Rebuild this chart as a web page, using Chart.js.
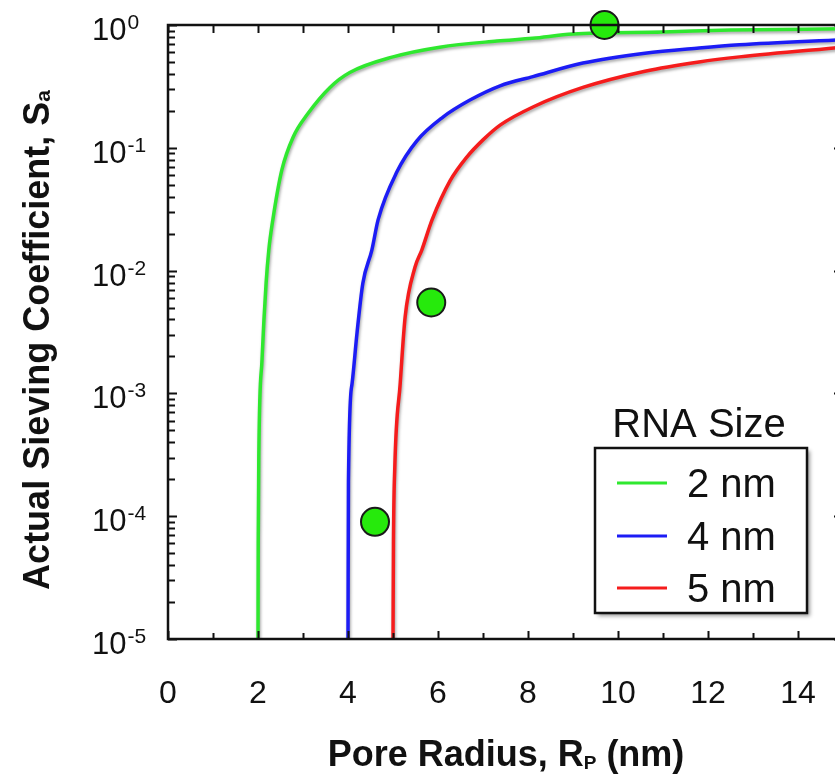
<!DOCTYPE html>
<html>
<head>
<meta charset="utf-8">
<script src="https://cdn.jsdelivr.net/npm/chart.js@4.4.1/dist/chart.umd.min.js"></script>
<style>
html, body { margin: 0; padding: 0; background: #fff; overflow: hidden; }
#caixa { width: 860px; height: 774px; }
</style>
</head>
<body>
<div id="caixa"><canvas id="grafico-sieving" width="860" height="774"></canvas></div>
<script>
// DADOS
var raio2nm = [2.0, 2.005, 2.02, 2.09, 2.18, 2.24, 2.33, 2.53, 2.78, 3.11, 3.6, 4.04, 5.0, 6.04, 7.31, 8.1, 9.0, 11.0, 12.5, 15];
var sieving2nm = [1e-5, 6e-5, 3.5e-4, 1.9e-3, 7.9e-3, 0.0147, 0.026, 0.066, 0.122, 0.19, 0.31, 0.41, 0.55, 0.66, 0.74, 0.78, 0.845, 0.877, 0.91, 0.93];

var raio4nm = [4.0, 4.01, 4.09, 4.2, 4.33, 4.53, 4.67, 5.09, 5.53, 6.11, 6.71, 7.38, 8.11, 9.22, 10.6, 11.8, 12.7, 15];
var sieving4nm = [1e-5, 1.9e-4, 1.2e-3, 3.1e-3, 7.9e-3, 0.0147, 0.026, 0.064, 0.114, 0.178, 0.245, 0.32, 0.38, 0.49, 0.59, 0.65, 0.69, 0.76];

var raio5nm = [5.0, 5.01, 5.04, 5.16, 5.27, 5.49, 5.64, 5.87, 6.27, 6.64, 7.0, 7.38, 8.11, 9.22, 10.6, 11.8, 12.7, 15];
var sieving5nm = [1e-5, 6e-5, 2.5e-4, 1.2e-3, 4.2e-3, 0.0107, 0.0147, 0.026, 0.054, 0.084, 0.116, 0.153, 0.215, 0.31, 0.42, 0.50, 0.55, 0.66];

// pontos medidos (circulos verdes)
var raioMedido = [9.7, 5.85, 4.6];
var sievingMedido = [1.0, 5.5e-3, 9e-5];

var rotulosLegenda = ['2 nm', '4 nm', '5 nm'];
var ticksX = [0, 2, 4, 6, 8, 10, 12, 14];
var expoentesY = [0, -1, -2, -3, -4, -5];

var FONTE = 'Arial, "Liberation Sans", Helvetica, sans-serif';

function pares(xs, ys) {
    return xs.map(function(x, i) { return { x: x, y: ys[i] }; });
}

function curva(label, xs, ys, cor) {
    return {
        label: label,
        data: pares(xs, ys),
        borderColor: cor,
        backgroundColor: cor,
        borderWidth: 3.5,
        pointRadius: 0,
        cubicInterpolationMode: 'monotone',
        sombra: true,
        order: 1
    };
}

var dataSieving = {
    datasets: [
        {
            label: 'medido',
            data: pares(raioMedido, sievingMedido),
            showLine: false,
            pointRadius: 14,
            pointBackgroundColor: '#26ea0c',
            pointBorderColor: '#1a1a1a',
            pointBorderWidth: 2,
            clip: false,
            order: 0
        },
        curva(rotulosLegenda[0], raio2nm, sieving2nm, '#2fe82f'),
        curva(rotulosLegenda[1], raio4nm, sieving4nm, '#1c1cf5'),
        curva(rotulosLegenda[2], raio5nm, sieving5nm, '#f51c1c')
    ]
};

// sombra cinza debaixo das curvas
var pluginSombra = {
    id: 'sombra',
    beforeDatasetDraw: function(chart, args) {
        var ds = chart.data.datasets[args.index];
        if (!ds.sombra) return;
        var ctx = chart.ctx;
        ctx.save();
        ctx.shadowColor = 'rgba(0,0,0,0.35)';
        ctx.shadowBlur = 3;
        ctx.shadowOffsetX = 1;
        ctx.shadowOffsetY = 2;
    },
    afterDatasetDraw: function(chart, args) {
        var ds = chart.data.datasets[args.index];
        if (!ds.sombra) return;
        chart.ctx.restore();
    }
};

// moldura, ticks para dentro, rotulos do eixo Y, titulos e legenda
var pluginMoldura = {
    id: 'moldura',
    afterDatasetsDraw: function(chart) {
        var ctx = chart.ctx;
        var a = chart.chartArea;
        var sx = chart.scales.x;
        var sy = chart.scales.y;
        ctx.save();
        ctx.strokeStyle = '#111';
        ctx.lineWidth = 2;
        ctx.beginPath();
        // ticks do eixo X (baixo e cima)
        for (var v = 0; v <= 15; v++) {
            var px = Math.round(sx.getPixelForValue(v)) + 0.5;
            var len = (v % 2 === 0) ? 8 : 6;
            ctx.moveTo(px, a.bottom);
            ctx.lineTo(px, a.bottom - len);
            ctx.moveTo(px, a.top);
            ctx.lineTo(px, a.top + 8);
        }
        // ticks do eixo Y log (esquerda e direita)
        for (var e = -5; e <= 0; e++) {
            for (var m = 1; m <= 9; m++) {
                var val = m * Math.pow(10, e);
                if (val > 1) break;
                var py = Math.round(sy.getPixelForValue(val)) + 0.5;
                var l = (m === 1) ? 9 : 7;
                ctx.moveTo(a.left, py);
                ctx.lineTo(a.left + l, py);
                ctx.moveTo(a.right, py);
                ctx.lineTo(a.right - l, py);
            }
        }
        ctx.stroke();
        ctx.lineWidth = 2.5;
        ctx.strokeRect(a.left, a.top, a.right - a.left, a.bottom - a.top);
        ctx.restore();
    },
    afterDraw: function(chart) {
        var ctx = chart.ctx;
        var sy = chart.scales.y;
        ctx.save();
        ctx.fillStyle = '#111';

        // rotulos 10^n
        ctx.textAlign = 'left';
        ctx.textBaseline = 'alphabetic';
        expoentesY.forEach(function(e) {
            var py = sy.getPixelForValue(Math.pow(10, e));
            ctx.font = '31px ' + FONTE;
            ctx.fillText('10', 92, py + 15);
            var w = ctx.measureText('10').width;
            ctx.font = '21px ' + FONTE;
            ctx.fillText(String(e), 92 + w + 1, py + 4);
        });

        // titulo do eixo X
        var partesX = [
            { t: 'Pore Radius, R', f: 'bold 36px ', dy: 0 },
            { t: 'P', f: 'bold 19px ', dy: 3 },
            { t: ' (nm)', f: 'bold 36px ', dy: 0 }
        ];
        desenhaPartes(ctx, partesX, 506, 766);

        // titulo do eixo Y
        ctx.save();
        ctx.translate(49, 340);
        ctx.rotate(-Math.PI / 2);
        var partesY = [
            { t: 'Actual Sieving Coefficient, S', f: 'bold 36px ', dy: 0 },
            { t: 'a', f: 'bold 21px ', dy: 1 }
        ];
        desenhaPartes(ctx, partesY, 0, 0);
        ctx.restore();

        // legenda
        ctx.font = '40px ' + FONTE;
        ctx.textAlign = 'center';
        ctx.fillText('RNA Size', 699, 437);

        ctx.save();
        ctx.shadowColor = 'rgba(0,0,0,0.4)';
        ctx.shadowBlur = 4;
        ctx.shadowOffsetX = 3;
        ctx.shadowOffsetY = 3;
        ctx.fillStyle = '#fff';
        ctx.fillRect(595, 448, 212, 165);
        ctx.restore();
        ctx.strokeStyle = '#111';
        ctx.lineWidth = 2.5;
        ctx.strokeRect(595, 448, 212, 165);

        var linhas = [483, 536, 588];
        ctx.textAlign = 'left';
        for (var i = 0; i < 3; i++) {
            var ds = chart.data.datasets[i + 1];
            ctx.strokeStyle = ds.borderColor;
            ctx.lineWidth = 3;
            ctx.beginPath();
            ctx.moveTo(617, linhas[i]);
            ctx.lineTo(667, linhas[i]);
            ctx.stroke();
            ctx.fillStyle = '#111';
            ctx.font = '40px ' + FONTE;
            ctx.fillText(ds.label, 687, linhas[i] + 14);
        }
        ctx.restore();
    }
};

// escreve texto com subscrito, centralizado em cx
function desenhaPartes(ctx, partes, cx, baseY) {
    var total = 0;
    partes.forEach(function(p) {
        ctx.font = p.f + FONTE;
        p.w = ctx.measureText(p.t).width;
        total += p.w;
    });
    var x = cx - total / 2;
    ctx.textAlign = 'left';
    ctx.textBaseline = 'alphabetic';
    partes.forEach(function(p) {
        ctx.font = p.f + FONTE;
        ctx.fillText(p.t, x, baseY + p.dy);
        x += p.w;
    });
}

var optionsSieving = {
    responsive: false,
    animation: false,
    layout: {
        padding: { left: 0, right: 17, top: 25, bottom: 0 }
    },
    plugins: {
        legend: { display: false },
        tooltip: { enabled: false }
    },
    scales: {
        x: {
            type: 'linear',
            min: 0,
            max: 15,
            afterFit: function(scale) { scale.height = 135; },
            afterBuildTicks: function(scale) {
                scale.ticks = ticksX.map(function(v) { return { value: v }; });
            },
            grid: { display: false, drawTicks: false },
            border: { display: false },
            ticks: {
                padding: 36,
                autoSkip: false,
                maxRotation: 0,
                color: '#111',
                font: { family: FONTE, size: 32 }
            }
        },
        y: {
            type: 'logarithmic',
            min: 1e-5,
            max: 1,
            afterFit: function(scale) { scale.width = 168; },
            grid: { display: false, drawTicks: false },
            border: { display: false },
            ticks: { display: false }
        }
    }
};

var graficoSievingCtx = document.getElementById('grafico-sieving').getContext('2d');
var graficoSieving = new Chart(graficoSievingCtx, {
    type: 'line',
    data: dataSieving,
    options: optionsSieving,
    plugins: [pluginSombra, pluginMoldura]
});
</script>
</body>
</html>
